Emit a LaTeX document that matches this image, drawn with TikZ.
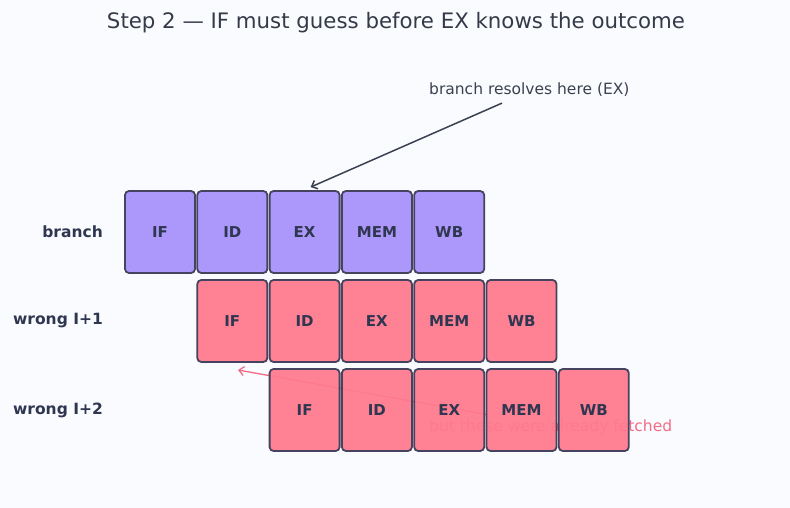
\documentclass[tikz,border=0pt]{standalone}
\usepackage{fontspec}
\setmainfont{DejaVu Sans}
\usepackage{tikz}
\usetikzlibrary{arrows.meta,positioning,calc}
\usepackage{xcolor}
\definecolor{bgpage}{HTML}{FAFBFE}
\definecolor{inkdark}{HTML}{2F3650}
\definecolor{edgedark}{HTML}{45435F}
\definecolor{branchfill}{HTML}{A892FA}
\definecolor{wrongfill}{HTML}{FF7A8E}
\definecolor{notepink}{HTML}{F26C86}
\definecolor{notegray}{HTML}{3A4150}

\begin{document}
\begin{tikzpicture}[x=1pt, y=-1pt,
  stage/.style={rectangle, draw=edgedark, line width=1.8pt, rounded corners=4pt, minimum width=70pt, minimum height=82pt, inner sep=0pt, fill opacity=0.94, text opacity=1, text=inkdark, font=\fontsize{15}{17}\selectfont\bfseries},
  rowlabel/.style={anchor=east, inner sep=0pt, text=inkdark, font=\fontsize{15.5}{18}\selectfont\bfseries},
  note/.style={anchor=west, inner sep=0pt, font=\fontsize{15.5}{18}\selectfont},
  pointer/.style={-{Straight Barb[length=5pt, width=9pt]}, line width=1.5pt}
]
\fill[bgpage] (0,0) rectangle (790,508);
\node[font=\fontsize{21.3}{24}\selectfont, text=notegray!90!black, inner sep=0pt] (title) at (396,23) {Step 2 — IF must guess before EX knows the outcome};

% annotations sit behind the boxes
\node[note, text=notegray] (resolve) at (429,90) {branch resolves here (EX)};
\node[note, text=notepink] (fetched) at (429,427) {but these were already fetched};
\coordinate (fetchtip) at (238,370);
\coordinate (fetchfrom) at (489,415);
\draw[pointer, notepink, line width=1.3pt] (fetchfrom) -- (fetchtip);

% row labels
\node[rowlabel] (lbranch) at (103,232) {branch};
\node[rowlabel] (lwrongA) at (103,321) {wrong I+1};
\node[rowlabel] (lwrongB) at (103,410) {wrong I+2};

% pipeline stages
\foreach \s [count=\i from 0] in {IF,ID,EX,MEM,WB} {
  \node[stage, fill=branchfill] (b\s) at (160+72.3*\i,232) {\s};
  \node[stage, fill=wrongfill] (w\s) at (232.3+72.3*\i,321) {\s};
  \node[stage, fill=wrongfill] (v\s) at (304.6+72.3*\i,410) {\s};
}

\draw[pointer, notegray] ($(resolve.south west)+(73,6)$) -- ($(bEX.north)+(6,-3)$);
\end{tikzpicture}
\end{document}
